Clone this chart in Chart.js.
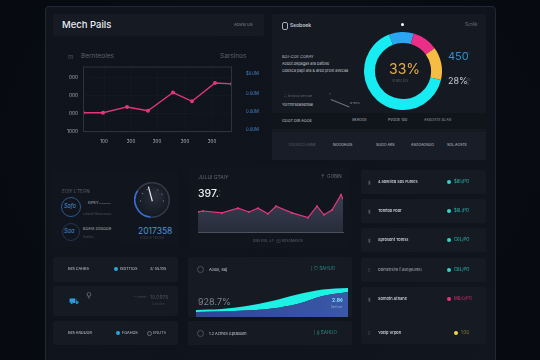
<!DOCTYPE html>
<html>
<head>
<meta charset="utf-8">
<script src="https://cdn.jsdelivr.net/npm/chart.js@4.4.0/dist/chart.umd.min.js"></script>
<style>
  html, body { margin: 0; padding: 0; }
  body {
    width: 540px; height: 360px; overflow: hidden; position: relative;
    background: radial-gradient(ellipse at 50% 40%, #0c121b 0%, #070a10 75%);
    font-family: "Inter", "Noto Sans", sans-serif; color: #c9ced8;
  }
  .abs { position: absolute; }
  .frame {
    left: 45px; top: 6px; width: 449px; height: 360px;
    background: linear-gradient(135deg, #10151d 0%, #0f141c 60%, #12171f 100%);
    border: 1px solid #222833; border-radius: 4px;
  }
  .card { position: absolute; background: #151a23; border-radius: 2px; }
  .card.faint { background: #11161e; }
  .t { position: absolute; white-space: nowrap; line-height: 1; }
  canvas { position: absolute; }
  .dot { position: absolute; width: 4px; height: 4px; border-radius: 50%; }
</style>
</head>
<body>
<div class="abs frame"></div>

<!-- top left -->
<div class="card" style="left:53px;top:14px;width:211px;height:22px;"></div>
<div class="t" style="left:62px;top:20px;font-size:9.5px;font-weight:500;color:#e8ebf0;">Mech Pails</div>
<div class="t" style="left:234px;top:23px;font-size:4px;color:#8a909c;">ADVSI US</div>
<div class="t" style="left:68px;top:54px;font-size:6px;color:#4c5260;">m</div>
<div class="t" style="left:81px;top:53px;font-size:6.5px;color:#5a606c;">Bernteoles</div>
<div class="t" style="left:220px;top:53px;font-size:6.5px;color:#5a606c;">Sarsinos</div>
<canvas id="mainChart" width="204" height="94" style="left:60px;top:58px;"></canvas>

<!-- top right -->
<div class="card" style="left:272px;top:14px;width:214px;height:146px;background:#141922;"></div>
<div class="abs" style="left:272px;top:113px;width:214px;height:16px;background:#10141b;"></div>
<div class="abs" style="left:272px;top:132px;width:214px;height:28px;background:#181d27;"></div>
<div class="abs" style="left:282px;top:22px;width:4px;height:6px;border:1px solid #aab;border-radius:2px;"></div>
<div class="t" style="left:290px;top:23px;font-size:5px;font-weight:600;color:#c8ccd6;">Ssoboek</div>
<div class="abs" style="left:401px;top:23px;width:3px;height:3px;border-radius:50%;background:#fff;"></div>
<div class="t" style="left:465px;top:23px;font-size:4.5px;color:#6d7380;">ScrAk</div>
<div class="t" style="left:282px;top:55px;font-size:4px;color:#b9bec8;">BOI-COE CORAY</div>
<div class="t" style="left:282px;top:62px;font-size:3.8px;color:#c2c6cf;">Aobot.dkpagas ara bafose</div>
<div class="t" style="left:282px;top:69px;font-size:3.8px;color:#c2c6cf;">Odesca papi ara &amp; ared prost avecaa</div>
<div class="t" style="left:284px;top:95px;font-size:3.6px;color:#5f6572;">∴ bmaca aercae</div>
<div class="t" style="left:282px;top:103px;font-size:3.8px;color:#c6cad2;">YolTmrsealsexsal</div>
<div class="abs" style="left:331px;top:99px;width:20px;height:1px;background:#6c7280;transform:rotate(22deg);transform-origin:0 0;"></div>
<div class="t" style="left:329px;top:94px;font-size:3.5px;color:#8a909c;">°</div>
<div class="t" style="left:350px;top:102px;font-size:3.5px;color:#8a909c;">a-ens</div>
<div class="t" style="left:282px;top:119px;font-size:3.8px;color:#c6cad2;">GOOT DIR.AOOE</div>
<div class="t" style="left:352px;top:119px;font-size:3.6px;color:#b4b9c3;">SKAOOE</div>
<div class="t" style="left:388px;top:119px;font-size:3.6px;color:#b4b9c3;">PVGOE 100</div>
<div class="t" style="left:424px;top:119px;font-size:3.6px;color:#8e94a0;">AKBOSTE BLAIE</div>
<div class="t" style="left:289px;top:144px;font-size:3.6px;color:#5d6370;">DOOOCO ASNE</div>
<div class="t" style="left:333px;top:144px;font-size:3.6px;color:#c6cad2;">NOOOAUIS</div>
<div class="t" style="left:376px;top:144px;font-size:3.6px;color:#c6cad2;">SUGO ARS</div>
<div class="t" style="left:411px;top:144px;font-size:3.6px;color:#c6cad2;">ASOOAOSUO</div>
<div class="t" style="left:447px;top:144px;font-size:3.6px;color:#c6cad2;">SOL.AOSTE</div>
<canvas id="shareChart" width="78" height="78" style="left:364px;top:32px;"></canvas>
<div class="t" style="left:389px;top:62px;font-size:14px;color:#e9b04a;">33%</div>
<div class="t" style="left:392px;top:79px;font-size:4px;color:#4f5562;">vrancios</div>
<div class="t" style="left:448px;top:51px;font-size:11px;color:#2f8fd2;">450</div>
<div class="t" style="left:467px;top:53px;font-size:3.5px;color:#5a606c;">∷<br>ı</div>
<div class="t" style="left:448px;top:76px;font-size:9px;color:#c8ccd5;">28%</div>
<div class="t" style="left:466px;top:79px;font-size:3.5px;color:#5a606c;">20<br>%</div>

<!-- middle left -->
<div class="card faint" style="left:53px;top:170px;width:125px;height:77px;"></div>
<div class="t" style="left:62px;top:190px;font-size:4.5px;color:#5c6270;">EOIY L'TEGN</div>
<div class="abs" style="left:61px;top:197px;width:18px;height:18px;border:1px solid #2b5a8f;border-radius:50%;"></div>
<div class="t" style="left:64px;top:204px;font-size:5.5px;font-style:italic;color:#4d8fd6;">Sofo</div>
<div class="t" style="left:88px;top:201px;font-size:3.8px;color:#aeb3bd;">EIPEY</div>
<div class="abs" style="left:99px;top:203px;width:12px;height:1px;background:#3a404c;"></div>
<div class="t" style="left:83px;top:213px;font-size:3.4px;color:#4a505c;">rokeolt Rowcsoos</div>
<div class="abs" style="left:62px;top:223px;width:16px;height:16px;border:1px solid #223650;border-radius:50%;"></div>
<div class="t" style="left:64px;top:229px;font-size:5.5px;font-style:italic;color:#4d8fd6;">Saa</div>
<div class="t" style="left:83px;top:227px;font-size:3.8px;color:#aeb3bd;">BOAIS 2G0OO9</div>
<div class="t" style="left:83px;top:236px;font-size:3.4px;color:#4a505c;">Ihatlns</div>
<canvas id="gaugeChart" width="36" height="36" style="left:134px;top:182px;"></canvas>
<div class="t" style="left:138px;top:227px;font-size:8.5px;color:#4e93dc;">2017358</div>
<div class="t" style="left:140px;top:237px;font-size:3.2px;color:#3e4450;">OOGOS TEIOSA</div>

<!-- middle centre -->
<div class="card faint" style="left:189px;top:167px;width:162px;height:81px;"></div>
<div class="t" style="left:198px;top:175px;font-size:5px;color:#5f6573;">JULUI GTAIY</div>
<div class="t" style="left:321px;top:175px;font-size:4.5px;color:#6a707c;">↑ &nbsp;GOBIN</div>
<div class="t" style="left:198px;top:189px;font-size:10.5px;font-weight:500;color:#eef0f4;">397.</div>
<div class="t" style="left:219px;top:190px;font-size:3.6px;color:#9aa0ac;">:<br>:</div>
<canvas id="trendChart" width="160" height="54" style="left:190px;top:186px;"></canvas>
<div class="t" style="left:253px;top:240px;font-size:3.3px;color:#5d6370;">DNS EVIL ↓↑ &nbsp;⊕ ROSOMASOS</div>

<!-- right list -->
<div class="card" style="left:361px;top:170px;width:125px;height:24px;"></div>
<div class="card" style="left:361px;top:199px;width:125px;height:24px;"></div>
<div class="card" style="left:361px;top:228px;width:125px;height:24px;"></div>
<div class="card" style="left:361px;top:258px;width:125px;height:24px;"></div>
<div class="card" style="left:361px;top:287px;width:125px;height:57px;"></div>
<div id="listBox"></div>

<!-- bottom left -->
<div class="card" style="left:53px;top:257px;width:125px;height:25px;"></div>
<div class="card" style="left:53px;top:286px;width:125px;height:30px;"></div>
<div class="card" style="left:53px;top:321px;width:125px;height:24px;"></div>
<div class="t" style="left:68px;top:267px;font-size:3.8px;color:#c6cad2;">Bes CAHBS</div>
<div class="dot" style="left:114px;top:267px;background:#2fa5d6;"></div>
<div class="t" style="left:120px;top:267px;font-size:3.8px;color:#c6cad2;">ISDTTIOS</div>
<div class="t" style="left:150px;top:267px;font-size:3.8px;color:#c6cad2;">3/ 55.105</div>
<div class="t" style="left:69px;top:297px;font-size:8px;color:#2f9ee0;">⛟</div>
<div class="t" style="left:86px;top:291px;font-size:8px;color:#6a7488;">⚲</div>
<div class="t" style="left:133px;top:296px;font-size:3.4px;color:#474d59;">— veees</div>
<div class="t" style="left:150px;top:295px;font-size:5px;color:#4d535f;">10.0975</div>
<div class="t" style="left:152px;top:303px;font-size:3.2px;color:#3c424e;">Cartdmn</div>
<div class="t" style="left:68px;top:331px;font-size:3.8px;color:#c6cad2;">Bes ARUUOR</div>
<div class="dot" style="left:116px;top:331px;background:#2fa5d6;"></div>
<div class="t" style="left:122px;top:331px;font-size:3.8px;color:#c6cad2;">FOAHOS</div>
<div class="abs" style="left:147px;top:331px;width:3px;height:3px;border:1px solid #6a707c;border-radius:50%;"></div>
<div class="t" style="left:153px;top:331px;font-size:3.8px;color:#aeb3bd;">ENUTS</div>

<!-- bottom centre -->
<div class="card" style="left:188px;top:257px;width:164px;height:60px;"></div>
<div class="card" style="left:188px;top:321px;width:164px;height:24px;"></div>
<div class="abs" style="left:197px;top:266px;width:5px;height:5px;border:1px solid #4a505c;border-radius:50%;"></div>
<div class="t" style="left:209px;top:268px;font-size:3.8px;color:#c6cad2;">Aoloo, Baj</div>
<div class="t" style="left:311px;top:267px;font-size:4.5px;color:#2e8f86;">| ○ SAHUO</div>
<div class="abs" style="left:197px;top:330px;width:5px;height:5px;border:1px solid #4a505c;border-radius:50%;"></div>
<div class="t" style="left:209px;top:332px;font-size:3.8px;color:#c6cad2;">1.2 Acrnes Gpraboen</div>
<div class="t" style="left:314px;top:331px;font-size:4.5px;color:#2e8f86;">| ġ SAHUO</div>
<canvas id="waveChart" width="152" height="33" style="left:196px;top:284px;"></canvas>
<div class="t" style="left:198px;top:297px;font-size:9px;color:#7c8290;">928.7%</div>
<div class="t" style="left:332px;top:298px;font-size:5px;font-weight:700;color:#7fe9ff;">2.8¢</div>
<div class="t" style="left:331px;top:306px;font-size:2.8px;color:#9fb4d6;">Tael cue</div>

<script>
// line chart, top left
const mainX = [0, 20, 44, 65, 90, 109, 132, 149];
const mainY = [1.05, 1.05, 1.37, 1.16, 2.16, 1.68, 2.68, 2.63];
const mainXTicks = [21, 48, 74, 102, 129];
const mainXLabels = ['100', '300', '300', '300', '300'];
const mainYTicks = [0, 1, 2, 3];
const mainYLabels = ['1000', '000', '000', '000'];
const sideYTicks = [0.1, 1.1, 2.1, 3.2];
const sideYLabels = ['0.00M', '0.00M', '0.00M', '$0.0M'];

// doughnut, top right
const shareLabels = ['Blue', 'Pink', 'Yellow', 'Cyan'];
const shareValues = [10.3, 10.6, 13.6, 65.5];

// gauge, middle left
const gaugeRim = [33, 67];
const gaugeNeedle = -15;   // degrees from top

// area chart, middle
const trendX = [0, 5, 24, 40, 51, 60, 70, 78, 94, 110, 119, 126, 134, 143, 145];
const trendY = [21, 22, 20, 25, 21, 25, 19, 27, 20, 15, 27, 18, 23, 39, 35];
const trendXTicks = [5, 24, 40, 59, 76, 94, 110, 126, 142];
const trendXLabels = ['140', '1000', '100', '300', '1300', '300', '300', '300', '100'];

// wave, bottom centre
const waveLabels = ['a', 'b', 'c', 'd', 'e', 'f', 'g'];
const waveBase = [5, 5.5, 6.5, 8.5, 13, 21, 25];
const waveBand = [2, 2.5, 4.5, 7.5, 9.5, 6.5, 4];

// right list
const listNames = ['4 aowlied Sos Fumes', 'Tomtoo Foor', 'Sprosont Tomss', 'Domeesirk f.ase@uveu', 'Somoth Athane', 'Yoeip Vrpon'];
const listValues = ['$85/PO', '$6L/PO', 'C6L/PO', 'C8L/PO', 'M8/0/PO', '1:20'];
const listColors = ['#2fd6c8', '#2fd6c8', '#2fd6c8', '#2fd6c8', '#ee2f7a', '#f2d34a'];

Chart.defaults.font.family = 'Inter, "Noto Sans", sans-serif';
Chart.defaults.animation = false;
Chart.defaults.responsive = false;
Chart.defaults.devicePixelRatio = 1;
Chart.defaults.plugins.legend.display = false;
Chart.defaults.plugins.tooltip.enabled = false;

const fixTicks = (vals) => (s) => { s.ticks = vals.map(v => ({ value: v })); };

const boxPlugin = {
  id: 'box',
  afterDraw(chart) {
    const a = chart.chartArea, c = chart.ctx;
    c.save();
    c.strokeStyle = '#2c323e';
    c.lineWidth = 1;
    c.strokeRect(a.left + 0.5, a.top + 0.5, a.right - a.left - 1, a.bottom - a.top - 1);
    c.restore();
  }
};

new Chart(document.getElementById('mainChart'), {
  type: 'line',
  data: {
    datasets: [{
      data: mainX.map((x, i) => ({ x, y: mainY[i] })),
      borderColor: '#e3357d',
      backgroundColor: '#e3357d',
      borderWidth: 1.4,
      pointRadius: 1.3,
      tension: 0
    }]
  },
  options: {
    layout: { padding: { top: 5 } },
    scales: {
      x: {
        type: 'linear', min: 0, max: 149,
        afterBuildTicks: fixTicks(mainXTicks),
        afterFit(s) { s.height = 20; },
        grid: { color: 'rgba(255,255,255,0.018)', drawTicks: false },
        border: { display: false },
        ticks: {
          padding: 7, color: '#b3b8c2', font: { size: 4.5 },
          callback: (v) => mainXLabels[mainXTicks.indexOf(v)]
        }
      },
      y: {
        min: 0, max: 3.58,
        afterBuildTicks: fixTicks(mainYTicks),
        afterFit(s) { s.width = 23; },
        grid: { color: 'rgba(255,255,255,0.018)', drawTicks: false },
        border: { display: false },
        ticks: {
          padding: 5, color: '#a9aeb8', font: { size: 4.8 },
          callback: (v) => mainYLabels[mainYTicks.indexOf(v)]
        }
      },
      y2: {
        position: 'right', min: 0, max: 3.58,
        afterBuildTicks: fixTicks(sideYTicks),
        afterFit(s) { s.width = 32; },
        grid: { display: false },
        border: { display: false },
        ticks: {
          padding: 6, color: '#4a86c8', font: { size: 4.2 },
          callback: (v) => sideYLabels[sideYTicks.indexOf(v)]
        }
      }
    }
  },
  plugins: [boxPlugin]
});

new Chart(document.getElementById('shareChart'), {
  type: 'doughnut',
  data: {
    labels: shareLabels,
    datasets: [{
      data: shareValues,
      backgroundColor: ['#2ba6f2', '#ec2f86', '#f6bc43', '#17ecf2'],
      borderWidth: 0
    }]
  },
  options: { cutout: '72%', rotation: -21 }
});

const gaugeFace = {
  id: 'gaugeFace',
  beforeDatasetsDraw(chart) {
    const m = chart.getDatasetMeta(0).data[0];
    const c = chart.ctx, r = m.innerRadius;
    c.save();
    const g = c.createRadialGradient(m.x + 4, m.y - 5, 2, m.x, m.y, r);
    g.addColorStop(0, '#272d3a');
    g.addColorStop(1, '#141922');
    c.fillStyle = g;
    c.beginPath(); c.arc(m.x, m.y, r, 0, Math.PI * 2); c.fill();
    c.restore();
  },
  afterDatasetsDraw(chart) {
    const m = chart.getDatasetMeta(0).data[0];
    const c = chart.ctx, r = m.innerRadius;
    c.save();
    c.fillStyle = '#8a92a2';
    [-55, -25, 30, 60, 95, 265].forEach(d => {
      const a = (d - 90) * Math.PI / 180;
      c.fillRect(m.x + Math.cos(a) * r * 0.7 - 0.5, m.y + Math.sin(a) * r * 0.7 - 0.5, 1, 1);
    });
    const a = (gaugeNeedle - 90) * Math.PI / 180;
    c.strokeStyle = '#e6e9ef';
    c.lineWidth = 1.2;
    c.beginPath();
    c.moveTo(m.x + Math.cos(a) * r * 0.85, m.y + Math.sin(a) * r * 0.85);
    c.lineTo(m.x + Math.cos(a + Math.PI) * r * 0.08, m.y + Math.sin(a + Math.PI) * r * 0.08);
    c.stroke();
    c.restore();
  }
};

new Chart(document.getElementById('gaugeChart'), {
  type: 'doughnut',
  data: {
    datasets: [{
      data: gaugeRim,
      backgroundColor: ['#3a6fd2', '#343b48'],
      borderWidth: 0
    }]
  },
  options: { cutout: '91%', rotation: 185 },
  plugins: [gaugeFace]
});

new Chart(document.getElementById('trendChart'), {
  type: 'line',
  data: {
    datasets: [{
      data: trendX.map((x, i) => ({ x, y: trendY[i] })),
      borderColor: '#e2387f',
      borderWidth: 1.2,
      pointRadius: 1,
      pointBackgroundColor: '#e2387f',
      pointBorderWidth: 0,
      fill: 'origin',
      backgroundColor(ctx) {
        const a = ctx.chart.chartArea;
        if (!a) return '#2c3142';
        const g = ctx.chart.ctx.createLinearGradient(0, a.top, 0, a.bottom);
        g.addColorStop(0, '#3c4256');
        g.addColorStop(1, '#282d3b');
        return g;
      },
      tension: 0
    }]
  },
  options: {
    layout: { padding: { left: 8, right: 7, top: 2 } },
    scales: {
      x: {
        type: 'linear', min: 0, max: 145,
        afterBuildTicks: fixTicks(trendXTicks),
        afterFit(s) { s.height = 8; },
        grid: { display: false },
        border: { color: '#4a505e' },
        ticks: {
          padding: 1, color: '#8c929e', font: { size: 3.4 },
          maxRotation: 0, autoSkip: false,
          callback: (v) => trendXLabels[trendXTicks.indexOf(v)]
        }
      },
      y: { display: false, min: 0, max: 44 }
    }
  }
});

new Chart(document.getElementById('waveChart'), {
  type: 'line',
  data: {
    labels: waveLabels,
    datasets: [
      {
        data: waveBase, fill: 'origin', borderWidth: 0, pointRadius: 0,
        cubicInterpolationMode: 'monotone',
        backgroundColor(ctx) {
          const a = ctx.chart.chartArea;
          if (!a) return '#34509c';
          const g = ctx.chart.ctx.createLinearGradient(a.left, 0, a.right, 0);
          g.addColorStop(0, '#2e4690');
          g.addColorStop(1, '#3a58a8');
          return g;
        }
      },
      {
        data: waveBand, fill: '-1', borderWidth: 0, pointRadius: 0,
        cubicInterpolationMode: 'monotone',
        backgroundColor: '#1ef0e4'
      }
    ]
  },
  options: {
    layout: { padding: 0 },
    scales: {
      x: { display: false, offset: false },
      y: { display: false, stacked: true, min: 0, max: 33 }
    }
  }
});

// list rows
const rowTops = [170, 199, 228, 258, 287, 324];
const box = document.getElementById('listBox');
listNames.forEach((name, i) => {
  const top = rowTops[i] + (i < 5 ? 10 : 7);
  const dim = i === 3;
  const dotLeft = i === 5 ? 454 : 447;
  box.insertAdjacentHTML('beforeend',
    `<div class="t" style="left:368px;top:${top}px;font-size:5px;color:#4d5360;">${i === 3 || i === 5 ? '⁞⁞' : '▮'}</div>` +
    `<div class="t" style="left:378px;top:${top}px;font-size:3.9px;font-weight:600;color:${dim ? '#8a909c' : '#c8ccd4'};">${name}</div>` +
    `<div class="dot" style="left:${dotLeft}px;top:${top}px;background:${listColors[i]};"></div>` +
    `<div class="t" style="left:${dotLeft + 7}px;top:${top}px;font-size:4.2px;color:${listColors[i]};opacity:${i === 5 ? 0.55 : 0.9};">${listValues[i]}</div>`);
});
</script>
</body>
</html>
